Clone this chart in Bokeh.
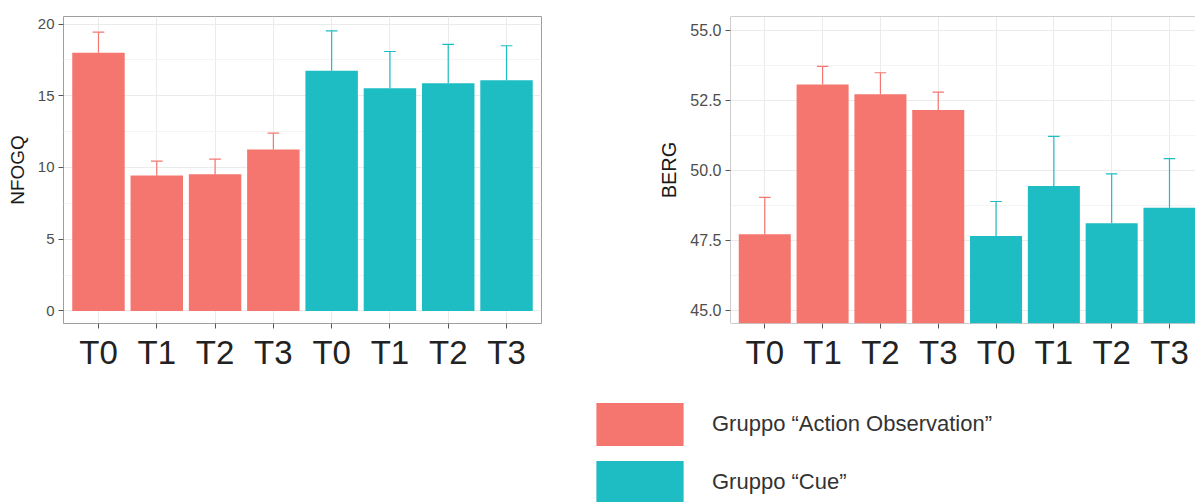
from bokeh.plotting import figure
from bokeh.layouts import column, row
from bokeh.models import (Range1d, FixedTicker, NumeralTickFormatter, Span,
                          Legend, LegendItem, ColumnDataSource)
from bokeh.embed import file_html
from bokeh.resources import INLINE

# ---------------- data ----------------
times = ["T0", "T1", "T2", "T3"]
groups = ["Gruppo \u201cAction Observation\u201d", "Gruppo \u201cCue\u201d"]

nfogq_ao = [18.0, 9.44, 9.53, 11.25]
nfogq_ao_err = [1.44, 1.00, 1.05, 1.14]
nfogq_cue = [16.75, 15.52, 15.87, 16.08]
nfogq_cue_err = [2.78, 2.57, 2.71, 2.41]

berg_ao = [47.72, 53.07, 52.72, 52.16]
berg_ao_err = [1.32, 0.65, 0.77, 0.64]
berg_cue = [47.66, 49.44, 48.11, 48.67]
berg_cue_err = [1.23, 1.78, 1.77, 1.75]

nfogq_ticks = [0, 5, 10, 15, 20]
berg_ticks = [45.0, 47.5, 50.0, 52.5, 55.0]

RED = "#F5766F"
TEAL = "#1EBDC4"
FONT = "Liberation Sans"

pos_ao = [i + 1 for i in range(len(times))]
pos_cue = [len(times) + i + 1 for i in range(len(times))]
all_pos = pos_ao + pos_cue
all_labels = times + times


def draw(p, vals, errs, xs, color):
    src = ColumnDataSource(dict(
        x=xs, top=vals,
        up=[v + e for v, e in zip(vals, errs)],
        x0=[x - 0.1 for x in xs], x1=[x + 0.1 for x in xs]))
    p.vbar(x="x", top="top", bottom=0, width=0.9, source=src,
           fill_color=color, line_color=None)
    p.segment(x0="x", y0="top", x1="x", y1="up", source=src,
              line_color=color, line_width=1.2)
    p.segment(x0="x0", y0="up", x1="x1", y1="up", source=src,
              line_color=color, line_width=1.2)


def style(p, ticks, fmt, label, tick_font, title_font):
    minor = [(a + b) / 2 for a, b in zip(ticks, ticks[1:])]
    p.xaxis.ticker = FixedTicker(ticks=all_pos)
    p.xaxis.major_label_overrides = {x: t for x, t in zip(all_pos, all_labels)}
    p.yaxis.ticker = FixedTicker(ticks=ticks, minor_ticks=minor)
    if fmt:
        p.yaxis.formatter = NumeralTickFormatter(format=fmt)
    p.axis.axis_line_color = None
    p.axis.major_tick_line_color = "#555555"
    p.axis.major_tick_out = 5
    p.axis.major_tick_in = 0
    p.axis.minor_tick_out = 0
    p.axis.minor_tick_in = 0
    p.xaxis.major_label_text_font = FONT
    p.xaxis.major_label_text_font_size = "33px"
    p.xaxis.major_label_text_color = "#222222"
    p.xaxis.major_label_standoff = 5
    p.yaxis.major_label_text_font = FONT
    p.yaxis.major_label_text_font_size = tick_font
    p.yaxis.major_label_text_color = "#4D4D4D"
    p.yaxis.major_label_standoff = 4
    p.yaxis.axis_label = label
    p.yaxis.axis_label_text_font = FONT
    p.yaxis.axis_label_text_font_size = title_font
    p.yaxis.axis_label_text_font_style = "normal"
    p.yaxis.axis_label_text_color = "#1a1a1a"
    p.yaxis.axis_label_standoff = 7
    p.xgrid.grid_line_color = "#EBEBEB"
    p.ygrid.grid_line_color = "#EBEBEB"
    p.ygrid.minor_grid_line_color = "#F4F4F4"
    p.background_fill_color = "white"
    p.border_fill_color = "white"


# ---------------- left panel ----------------
p1 = figure(width=650, height=388, output_backend="svg", toolbar_location=None,
            x_range=Range1d(0.4, 8.6), y_range=Range1d(-0.88, 20.53),
            min_border_left=63, min_border_right=109,
            min_border_top=16, min_border_bottom=65)
draw(p1, nfogq_ao, nfogq_ao_err, pos_ao, RED)
draw(p1, nfogq_cue, nfogq_cue_err, pos_cue, TEAL)
style(p1, nfogq_ticks, None, "NFOGQ", "15px", "19px")
p1.outline_line_color = "#9E9E9E"
p1.outline_line_width = 1

# ---------------- right panel ----------------
p2 = figure(width=545, height=388, output_backend="svg", toolbar_location=None,
            x_range=Range1d(0.407, 8.45), y_range=Range1d(44.53, 55.5),
            min_border_left=80, min_border_right=0,
            min_border_top=10, min_border_bottom=62)
draw(p2, berg_ao, berg_ao_err, pos_ao, RED)
draw(p2, berg_cue, berg_cue_err, pos_cue, TEAL)
style(p2, berg_ticks, "0.0", "BERG", "16px", "20px")
p2.outline_line_color = None
for loc, dim in [(55.5, "width"), (44.53, "width"), (0.407, "height")]:
    p2.add_layout(Span(location=loc, dimension=dim,
                       line_color="#9E9E9E", line_width=1))

# ---------------- legend ----------------
pl = figure(width=1195, height=114, output_backend="svg", toolbar_location=None,
            x_axis_location=None, y_axis_location=None,
            x_range=Range1d(0, 1), y_range=Range1d(0, 1),
            min_border=0)
pl.grid.visible = False
pl.outline_line_color = None
r_ao = pl.vbar(x=[-10], top=[-10], width=0.5,
               fill_color=RED, line_color=None)
r_cue = pl.vbar(x=[-10], top=[-10], width=0.5,
                fill_color=TEAL, line_color=None)
leg = Legend(items=[LegendItem(label=groups[0], renderers=[r_ao]),
                    LegendItem(label=groups[1], renderers=[r_cue])],
             location=(585, -7), orientation="vertical",
             glyph_width=109, glyph_height=54, spacing=4,
             label_standoff=18, padding=0, margin=0,
             border_line_color=None, background_fill_alpha=0,
             label_text_font=FONT, label_text_font_size="22px",
             label_text_color="#333333")
pl.add_layout(leg, "center")

layout = column(row(p1, p2), pl)
open("out.html", "w").write(file_html(layout, INLINE))
